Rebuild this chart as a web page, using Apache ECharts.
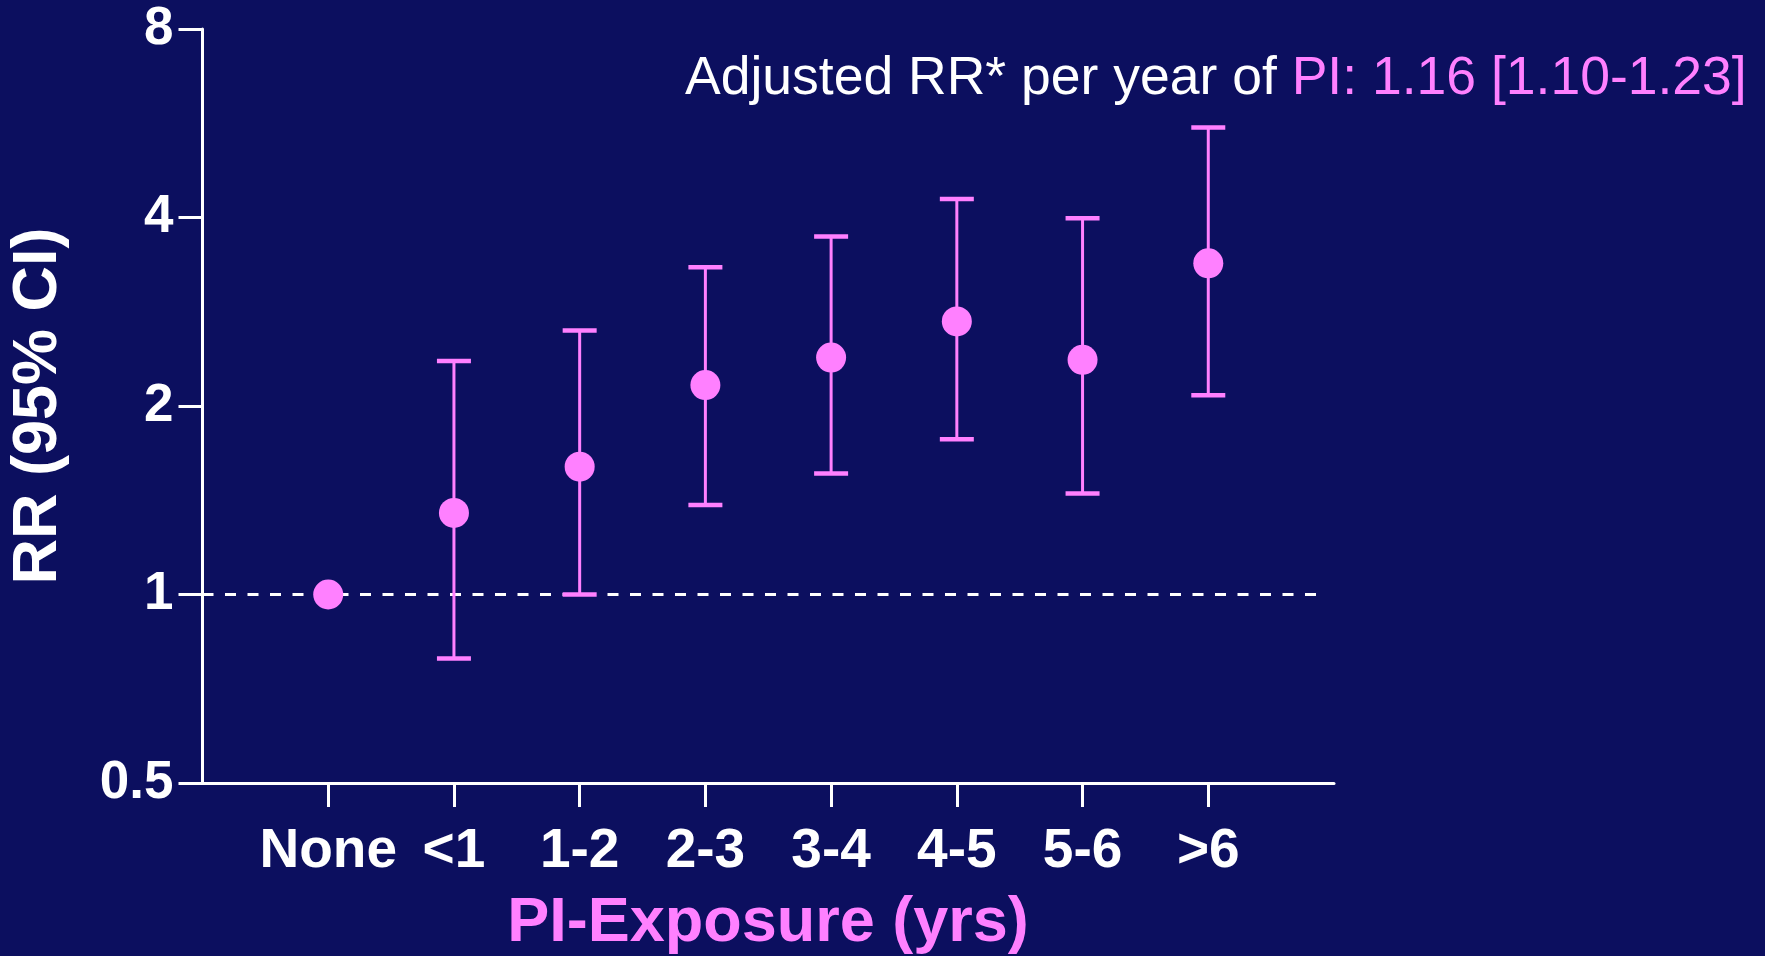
<!DOCTYPE html>
<html>
<head>
<meta charset="utf-8">
<title>RR by PI exposure</title>
<script src="https://cdn.jsdelivr.net/npm/echarts@6/dist/echarts.min.js"></script>
<style>
  html, body { margin: 0; padding: 0; background: #0c0f5f; }
  #chart { width: 1765px; height: 956px; }
</style>
</head>
<body>
<div id="chart"></div>
<script>
// Exposure categories (years of PI use)
const categories = ['None', '<1', '1-2', '2-3', '3-4', '4-5', '5-6', '>6'];
// Relative risk point estimates
const rr = [1.00, 1.35, 1.60, 2.16, 2.39, 2.73, 2.37, 3.38];
// 95% confidence interval bounds (null where no interval is shown)
const ciLow  = [null, 0.79, 1.00, 1.39, 1.56, 1.77, 1.45, 2.08];
const ciHigh = [null, 2.36, 2.64, 3.33, 3.73, 4.28, 3.99, 5.57];
// Y-axis ticks (log2 scale)
const yTicks = [0.5, 1, 2, 4, 8];
// Reference line at RR = 1
const refValue = 1;

const PINK = '#ff80ff';
const WHITE = '#ffffff';
const BG = '#0c0f5f';
const FONT = "'Liberation Sans', Arial, Helvetica, sans-serif";

const xPos = categories.map((_, i) => i + 1);
const pointData = rr.map((v, i) => [xPos[i], v]);
const ciData = [];
ciLow.forEach((lo, i) => {
  if (lo != null && ciHigh[i] != null) ciData.push([xPos[i], lo, ciHigh[i]]);
});

const chart = echarts.init(document.getElementById('chart'), null, { renderer: 'canvas' });

chart.setOption({
  animation: false,
  backgroundColor: BG,
  grid: { left: 202.5, right: 431, top: 29, bottom: 173, outerBoundsMode: 'none', containLabel: false },
  xAxis: {
    type: 'value',
    min: 0,
    max: categories.length + 1,
    splitLine: { show: false },
    axisLine: { show: true, lineStyle: { color: WHITE, width: 3 } },
    axisTick: { show: true, customValues: xPos, length: 24, lineStyle: { color: WHITE, width: 3 } },
    axisLabel: {
      customValues: xPos,
      formatter: v => categories[Math.round(v) - 1] || '',
      color: WHITE, fontFamily: FONT, fontWeight: 'bold', fontSize: 55, margin: 41
    }
  },
  yAxis: {
    type: 'log',
    logBase: 2,
    min: yTicks[0],
    max: yTicks[yTicks.length - 1],
    splitLine: { show: false },
    axisLine: { show: true, lineStyle: { color: WHITE, width: 3 } },
    axisTick: { show: true, customValues: yTicks, length: 24, lineStyle: { color: WHITE, width: 3 } },
    axisLabel: {
      customValues: yTicks,
      formatter: v => String(+(+v).toFixed(2)),
      color: WHITE, fontFamily: FONT, fontWeight: 'bold', fontSize: 53, margin: 29
    }
  },
  series: [
    {
      // confidence interval whiskers with end caps
      type: 'custom',
      z: 2,
      data: ciData,
      renderItem: function (params, api) {
        const x = api.value(0);
        const lo = api.coord([x, api.value(1)]);
        const hi = api.coord([x, api.value(2)]);
        const half = 17;
        return {
          type: 'group',
          children: [
            { type: 'line', shape: { x1: lo[0], y1: lo[1], x2: hi[0], y2: hi[1] }, style: { stroke: PINK, lineWidth: 3 } },
            { type: 'line', shape: { x1: hi[0] - half, y1: hi[1], x2: hi[0] + half, y2: hi[1] }, style: { stroke: PINK, lineWidth: 4.5 } },
            { type: 'line', shape: { x1: lo[0] - half, y1: lo[1], x2: lo[0] + half, y2: lo[1] }, style: { stroke: PINK, lineWidth: 4.5 } }
          ]
        };
      }
    },
    {
      type: 'scatter',
      z: 3,
      data: pointData,
      symbol: 'circle',
      symbolSize: 30,
      itemStyle: { color: PINK, opacity: 1 },
      markLine: {
        silent: true,
        symbol: 'none',
        z: 1,
        label: { show: false },
        lineStyle: { color: WHITE, width: 3, type: [11, 11.5], opacity: 1 },
        data: [[{ coord: [0, refValue] }, { coord: [8.93, refValue] }]]
      }
    }
  ],
  graphic: [
    {
      type: 'text',
      left: 685,
      top: 52,
      style: {
        text: '{w|Adjusted RR* per year of }{p|PI: 1.16 [1.10-1.23]}',
        font: '53.5px ' + FONT,
        rich: {
          w: { fill: WHITE, fontSize: 53.5, fontFamily: FONT },
          p: { fill: PINK, fontSize: 53.5, fontFamily: FONT }
        }
      }
    },
    {
      type: 'text',
      x: 38.5,
      y: 406,
      rotation: Math.PI / 2,
      style: {
        text: 'RR (95% CI)',
        fill: WHITE,
        font: 'bold 63px ' + FONT,
        align: 'center',
        verticalAlign: 'middle'
      }
    },
    {
      type: 'text',
      x: 768,
      y: 924,
      style: {
        text: 'PI-Exposure (yrs)',
        fill: PINK,
        font: 'bold 63px ' + FONT,
        align: 'center',
        verticalAlign: 'middle'
      }
    }
  ]
});
</script>
</body>
</html>
